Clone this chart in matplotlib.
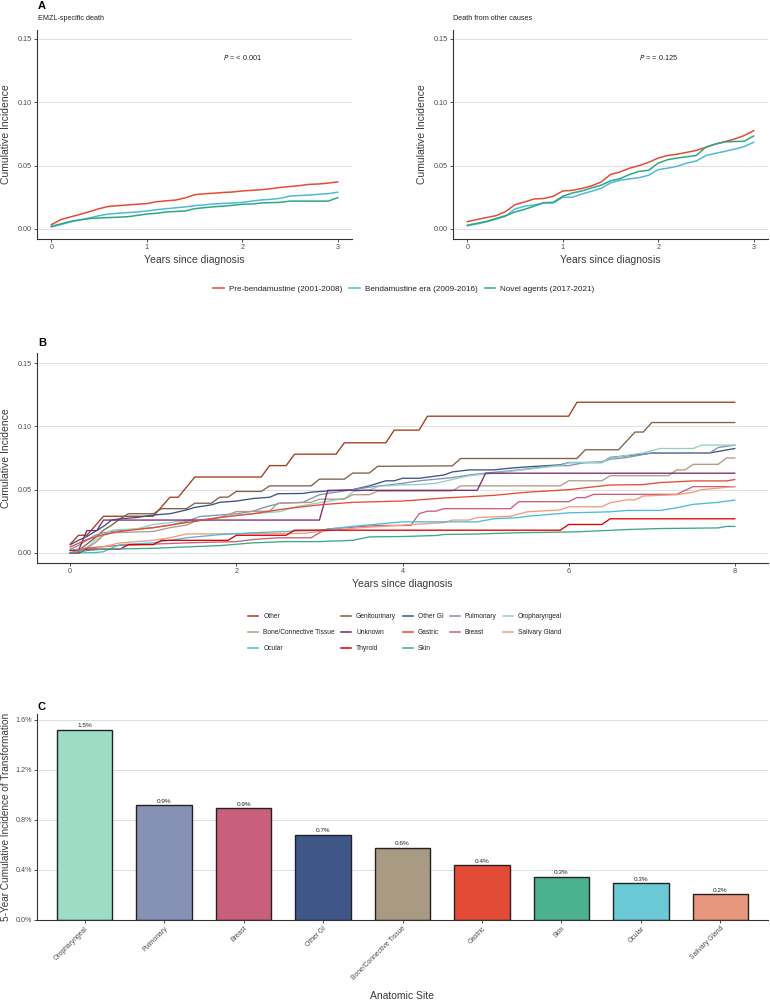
import matplotlib
matplotlib.use('Agg')
import matplotlib.pyplot as plt
from matplotlib.lines import Line2D
from matplotlib.ticker import FuncFormatter

plt.rcParams['font.family'] = ['Liberation Sans', 'DejaVu Sans']

# ---------------- Panel A data ----------------
a_time = [0, 0.1, 0.2, 0.3, 0.4, 0.5, 0.6, 0.7, 0.8, 0.9, 1.0, 1.1, 1.2, 1.3, 1.4, 1.5,
          1.6, 1.7, 1.8, 1.9, 2.0, 2.1, 2.2, 2.3, 2.4, 2.5, 2.6, 2.7, 2.8, 2.9, 3.0]
era_names = ['Pre-bendamustine (2001-2008)', 'Bendamustine era (2009-2016)', 'Novel agents (2017-2021)']
era_colors = ['#E64B35', '#4DBBD5', '#2EA784']

emzl_pre = [0.0034, 0.0074, 0.0095, 0.0115, 0.0137, 0.0160, 0.0178, 0.0184, 0.0190, 0.0195, 0.0200,
            0.0215, 0.0222, 0.0228, 0.0245, 0.0270, 0.0278, 0.0282, 0.0288, 0.0292, 0.0300, 0.0305,
            0.0310, 0.0318, 0.0328, 0.0335, 0.0342, 0.0352, 0.0355, 0.0362, 0.0372]
emzl_benda = [0.0016, 0.0035, 0.0055, 0.0072, 0.0087, 0.0105, 0.0118, 0.0124, 0.0129, 0.0135, 0.0142,
              0.0152, 0.0160, 0.0167, 0.0174, 0.0184, 0.0190, 0.0197, 0.0202, 0.0205, 0.0210, 0.0220,
              0.0229, 0.0234, 0.0242, 0.0260, 0.0264, 0.0268, 0.0274, 0.0279, 0.0290]
emzl_novel = [0.0021, 0.0040, 0.0060, 0.0072, 0.0082, 0.0087, 0.0090, 0.0093, 0.0097, 0.0107, 0.0118,
              0.0124, 0.0134, 0.0138, 0.0142, 0.0160, 0.0168, 0.0175, 0.0180, 0.0187, 0.0195, 0.0197,
              0.0205, 0.0208, 0.0210, 0.0220, 0.0220, 0.0220, 0.0220, 0.0220, 0.0247]

other_pre = [0.0058, 0.0074, 0.0090, 0.0105, 0.0137, 0.0192, 0.0213, 0.0237, 0.0240, 0.0258, 0.0300,
             0.0305, 0.0320, 0.0340, 0.0370, 0.0430, 0.0450, 0.0480, 0.0500, 0.0526, 0.0560, 0.0580,
             0.0590, 0.0605, 0.0620, 0.0645, 0.0670, 0.0690, 0.0710, 0.0737, 0.0776]
other_benda = [0.0026, 0.0040, 0.0055, 0.0078, 0.0100, 0.0158, 0.0180, 0.0190, 0.0205, 0.0205, 0.0250,
               0.0250, 0.0276, 0.0297, 0.0320, 0.0363, 0.0384, 0.0395, 0.0405, 0.0424, 0.0468, 0.0480,
               0.0495, 0.0520, 0.0537, 0.0580, 0.0597, 0.0613, 0.0630, 0.0650, 0.0684]
other_novel = [0.0029, 0.0045, 0.0060, 0.0083, 0.0105, 0.0134, 0.0155, 0.0180, 0.0208, 0.0210, 0.0258,
               0.0284, 0.0300, 0.0324, 0.0345, 0.0380, 0.0397, 0.0430, 0.0455, 0.0463, 0.0520, 0.0547,
               0.0560, 0.0570, 0.0580, 0.0647, 0.0670, 0.0687, 0.0690, 0.0692, 0.0734]

# ---------------- Panel B data ----------------
site_names = ['Other', 'Genitourinary', 'Other GI', 'Pulmonary', 'Oropharyngeal',
              'Bone/Connective Tissue', 'Unknown', 'Gastric', 'Breast', 'Salivary Gland',
              'Ocular', 'Thyroid', 'Skin']
site_colors = ['#A33B1E', '#7E6148', '#3C5488', '#8491B4', '#91D1C2',
               '#B09C85', '#7E2A6E', '#E64B35', '#C95F7A', '#F39B7F',
               '#4DBBD5', '#DC0000', '#3AAA88']

t_other = [0, 0.1, 0.2, 0.4, 1.0, 1.2, 1.3, 1.5, 2.3, 2.4, 2.6, 2.7, 3.2, 3.3, 3.8, 3.9, 4.2, 4.3, 6.0, 6.1, 8.0]
v_other = [0.007, 0.014, 0.014, 0.029, 0.029, 0.044, 0.044, 0.060, 0.060, 0.069, 0.069, 0.078, 0.078,
           0.087, 0.087, 0.097, 0.097, 0.108, 0.108, 0.119, 0.119]

t_gu = [0, 0.1, 0.2, 0.3, 0.4, 0.5, 0.6, 0.7, 1.0, 1.1, 1.4, 1.5, 1.7, 1.8, 1.9, 2.0, 2.3, 2.4, 2.9,
        3.0, 3.3, 3.4, 3.6, 3.7, 4.6, 4.7, 6.1, 6.2, 6.6, 6.8, 6.9, 7.0, 8.0]
v_gu = [0.002, 0.002, 0.007, 0.012, 0.018, 0.022, 0.027, 0.031, 0.031, 0.035, 0.035, 0.0393, 0.0393,
        0.0441, 0.0441, 0.0486, 0.0486, 0.053, 0.053, 0.0583, 0.0583, 0.0631, 0.0631, 0.0684, 0.0688,
        0.0746, 0.0746, 0.0815, 0.0815, 0.0955, 0.0955, 0.103, 0.103]

t_ogi = [0, 0.1, 0.2, 0.3, 0.4, 0.5, 0.6, 0.8, 1.0, 1.2, 1.4, 1.5, 1.6, 1.7, 1.8, 2.0, 2.2, 2.4, 2.5,
         2.8, 2.9, 3.1, 3.4, 3.6, 3.7, 3.8, 3.9, 4.0, 4.2, 4.5, 4.6, 4.8, 5.1, 5.3, 5.5, 5.9, 6.0, 6.4,
         6.5, 7.0, 7.7, 8.0]
v_ogi = [0.0066, 0.010, 0.013, 0.017, 0.021, 0.026, 0.027, 0.028, 0.030, 0.031, 0.034, 0.036, 0.037,
         0.038, 0.040, 0.041, 0.043, 0.044, 0.0468, 0.047, 0.048, 0.049, 0.050, 0.053, 0.055, 0.057,
         0.057, 0.059, 0.059, 0.0616, 0.064, 0.0656, 0.0656, 0.067, 0.068, 0.0696, 0.0714, 0.0714,
         0.0754, 0.0788, 0.079, 0.0825]

t_pul = [0, 0.1, 0.2, 0.3, 0.4, 0.5, 0.8, 1.0, 1.2, 1.4, 1.56, 1.8, 2.0, 2.2, 2.37, 2.53, 2.8, 3.0,
         3.3, 3.6, 4.0, 4.2, 4.6, 4.8, 5.0, 5.4, 5.8, 6.0, 6.2, 6.4, 6.5, 6.7, 7.0, 7.7, 7.8, 8.0]
v_pul = [0.003, 0.006, 0.010, 0.014, 0.016, 0.017, 0.019, 0.020, 0.022, 0.025, 0.0288, 0.030, 0.031,
         0.033, 0.0367, 0.0393, 0.040, 0.046, 0.049, 0.052, 0.055, 0.057, 0.0595, 0.0616, 0.063,
         0.0656, 0.0688, 0.069, 0.0714, 0.072, 0.074, 0.0754, 0.079, 0.079, 0.0833, 0.0852]

t_oro = [0, 0.1, 0.2, 0.3, 0.4, 0.5, 0.6, 0.8, 1.0, 1.2, 1.4, 1.56, 2.0, 2.53, 2.73, 3.09, 3.31, 3.41,
         3.61, 3.71, 3.97, 4.2, 4.4, 4.6, 4.8, 5.1, 5.5, 5.9, 6.0, 6.4, 6.5, 6.9, 7.1, 7.5, 7.6, 8.0]
v_oro = [0.000, 0.001, 0.004, 0.010, 0.014, 0.018, 0.0185, 0.019, 0.0225, 0.024, 0.026, 0.026, 0.030,
         0.0327, 0.0367, 0.0406, 0.0433, 0.0486, 0.050, 0.0525, 0.0538, 0.054, 0.055, 0.058, 0.061,
         0.063, 0.066, 0.069, 0.0714, 0.0714, 0.075, 0.079, 0.0825, 0.0825, 0.0852, 0.0852]

t_bone = [0, 0.2, 0.3, 0.4, 0.5, 1.0, 1.2, 1.4, 1.5, 1.8, 2.0, 2.4, 2.5, 2.9, 3.0, 3.3, 3.4, 3.6, 3.7,
          4.6, 4.7, 5.9, 6.0, 6.4, 6.5, 7.2, 7.3, 7.4, 7.5, 7.8, 7.9, 8.0]
v_bone = [0.002, 0.004, 0.008, 0.014, 0.016, 0.017, 0.020, 0.022, 0.025, 0.028, 0.0327, 0.033, 0.0393,
          0.040, 0.0425, 0.0425, 0.046, 0.046, 0.0488, 0.049, 0.053, 0.053, 0.057, 0.057, 0.061, 0.061,
          0.0656, 0.0656, 0.070, 0.070, 0.075, 0.075]

t_unk = [0, 0.1, 0.2, 0.32, 0.4, 3.0, 3.1, 4.9, 5.0, 8.0]
v_unk = [0.002, 0.002, 0.0177, 0.0177, 0.026, 0.026, 0.0495, 0.0495, 0.063, 0.063]

t_gas = [0, 0.2, 0.4, 0.6, 1.0, 1.4, 1.8, 2.2, 2.6, 3.0, 3.4, 4.0, 4.5, 5.1, 5.5, 6.0, 6.5, 6.9, 7.1,
         7.5, 7.9, 8.0]
v_gas = [0.0048, 0.0106, 0.0145, 0.017, 0.020, 0.024, 0.028, 0.031, 0.035, 0.038, 0.040, 0.041, 0.0434,
         0.0455, 0.048, 0.050, 0.0537, 0.054, 0.0556, 0.0569, 0.0569, 0.058]

t_bre = [0, 0.2, 0.6, 1.4, 2.0, 2.2, 2.5, 2.9, 3.0, 3.1, 3.7, 4.1, 4.2, 4.3, 4.4, 4.5, 5.3, 5.4, 6.0,
         6.1, 6.2, 6.3, 7.3, 7.5, 8.0]
v_bre = [0.000, 0.004, 0.006, 0.008, 0.009, 0.0106, 0.012, 0.012, 0.016, 0.019, 0.0217, 0.0217, 0.031,
         0.033, 0.033, 0.035, 0.035, 0.0405, 0.0405, 0.0437, 0.0437, 0.0463, 0.0463, 0.0524, 0.0524]

t_sal = [0, 0.2, 0.4, 0.6, 1.0, 1.2, 1.4, 2.8, 3.0, 3.5, 4.0, 4.5, 4.6, 4.8, 4.9, 5.3, 5.5, 5.9, 6.0,
         6.4, 6.5, 6.7, 6.8, 6.9, 7.3, 7.5, 7.6, 8.0]
v_sal = [0.000, 0.002, 0.005, 0.008, 0.010, 0.012, 0.015, 0.0155, 0.017, 0.020, 0.022, 0.024, 0.026,
         0.026, 0.028, 0.029, 0.0325, 0.034, 0.0365, 0.0365, 0.0397, 0.042, 0.042, 0.045, 0.046,
         0.048, 0.050, 0.0524]

t_ocu = [0, 0.3, 0.4, 0.5, 0.6, 1.0, 1.4, 1.8, 2.2, 2.6, 3.0, 3.4, 4.0, 4.9, 5.1, 5.4, 5.5, 6.0, 6.5,
         6.7, 7.1, 7.3, 7.5, 7.8, 8.0]
v_ocu = [0.000, 0.0003, 0.001, 0.004, 0.0066, 0.008, 0.012, 0.0145, 0.016, 0.017, 0.018, 0.021,
         0.0246, 0.0246, 0.027, 0.028, 0.029, 0.0317, 0.0325, 0.0336, 0.0336, 0.0357, 0.0384, 0.040,
         0.0418]

t_thy = [0, 0.1, 0.2, 0.6, 0.7, 1.0, 1.1, 1.9, 2.0, 2.6, 2.7, 5.9, 6.0, 6.4, 6.5, 8.0]
v_thy = [0.000, 0.000, 0.003, 0.003, 0.0066, 0.0066, 0.010, 0.010, 0.014, 0.014, 0.018, 0.018,
         0.0225, 0.0225, 0.027, 0.027]

t_skin = [0, 0.2, 0.4, 1.0, 1.4, 1.8, 2.2, 2.6, 3.0, 3.4, 3.6, 4.0, 4.4, 4.5, 4.9, 5.4, 6.1, 6.7, 7.1,
          7.8, 7.9, 8.0]
v_skin = [0.000, 0.002, 0.003, 0.0037, 0.0048, 0.0058, 0.008, 0.009, 0.009, 0.010, 0.0127, 0.013,
          0.0138, 0.0146, 0.015, 0.016, 0.0167, 0.0185, 0.0193, 0.0198, 0.021, 0.021]

site_times = [t_other, t_gu, t_ogi, t_pul, t_oro, t_bone, t_unk, t_gas, t_bre, t_sal, t_ocu, t_thy, t_skin]
site_values = [v_other, v_gu, v_ogi, v_pul, v_oro, v_bone, v_unk, v_gas, v_bre, v_sal, v_ocu, v_thy, v_skin]

# ---------------- Panel C data ----------------
bar_sites = ['Oropharyngeal', 'Pulmonary', 'Breast', 'Other GI', 'Bone/Connective Tissue',
             'Gastric', 'Skin', 'Ocular', 'Salivary Gland']
bar_values = [1.52, 0.918, 0.894, 0.68, 0.576, 0.437, 0.347, 0.293, 0.205]
bar_colors = ['#9DDCC5', '#8592B4', '#C95F7A', '#3F5788', '#A99A83',
              '#E44B37', '#4CB18F', '#6BC8D5', '#E6977E']

# ---------------- figure ----------------
W, H = 770, 1000
fig = plt.figure(figsize=(7.7, 10), dpi=100)

def rect(l, t, r, b):
    return [l / W, 1 - b / H, (r - l) / W, (b - t) / H]

def ftext(x, y, s, **kw):
    fig.text(x / W, 1 - y / H, s, **kw)

TICKC = '#4D4D4D'
TITLEC = '#3A3A3A'

def style(ax):
    for s in ['top', 'right']:
        ax.spines[s].set_visible(False)
    for s in ['left', 'bottom']:
        ax.spines[s].set_color('#333333')
        ax.spines[s].set_linewidth(0.8)
    ax.tick_params(length=2, width=0.6, color='#333333', labelsize=5.2,
                   labelcolor=TICKC, pad=1.5)
    ax.yaxis.grid(True, color='#DEDEDE', linewidth=0.7)
    ax.set_axisbelow(True)

# Panel A
axA1 = fig.add_axes(rect(37, 30, 352, 239))
axA2 = fig.add_axes(rect(453, 30, 768, 239))
for ax, series, ptxt in [(axA1, [emzl_pre, emzl_benda, emzl_novel], '= < 0.001'),
                         (axA2, [other_pre, other_benda, other_novel], '= = 0.125')]:
    style(ax)
    for vals, col, nm in zip(series, era_colors, era_names):
        ax.plot(a_time, vals, color=col, lw=1.1, label=nm)
    ax.set_xlim(-0.15, 3.15)
    ax.set_ylim(-0.0079, 0.157)
    ax.set_xticks([0, 1, 2, 3])
    ax.set_yticks([0, 0.05, 0.10, 0.15])
    ax.set_yticklabels(['0.00', '0.05', '0.10', '0.15'])
    ax.text(2.0, 0.135, r'$\it{P}$ ' + ptxt, ha='center', va='center', fontsize=5.3, color='#222222')

ftext(38, 1, 'A', fontsize=8, fontweight='bold', va='top', ha='left')
ftext(38, 18.5, 'EMZL-specific death', fontsize=5.2, va='center', ha='left', color='#222222')
ftext(453, 18.5, 'Death from other causes', fontsize=5.2, va='center', ha='left', color='#222222')
for xc in [194.5, 610.5]:
    ftext(xc, 260, 'Years since diagnosis', fontsize=7.5, ha='center', va='center', color=TITLEC)
for xc in [6, 422]:
    ftext(xc, 134.5, 'Cumulative Incidence', fontsize=7.5, ha='center', va='center',
          rotation=90, color=TITLEC)

hA = [Line2D([], [], color=c, lw=1.1) for c in era_colors]
fig.legend(hA, era_names, loc='center', bbox_to_anchor=(404 / W, 1 - 289 / H), ncol=3,
           frameon=False, fontsize=5.9, handlelength=1.3, columnspacing=0.85, handletextpad=0.6,
           labelcolor='#222222')

# Panel B
axB = fig.add_axes(rect(37, 353, 768, 563))
style(axB)
for tt, vv, col, nm in zip(site_times, site_values, site_colors, site_names):
    axB.plot(tt, vv, color=col, lw=0.95, label=nm)
axB.set_xlim(-0.4, 8.4)
axB.set_ylim(-0.0079, 0.1579)
axB.set_xticks([0, 2, 4, 6, 8])
axB.set_yticks([0, 0.05, 0.10, 0.15])
axB.set_yticklabels(['0.00', '0.05', '0.10', '0.15'])
ftext(38, 343, 'B', fontsize=8, fontweight='bold', va='center', ha='left')
ftext(402.5, 584, 'Years since diagnosis', fontsize=7.5, ha='center', va='center', color=TITLEC)
ftext(6, 458, 'Cumulative Incidence', fontsize=7.5, ha='center', va='center', rotation=90, color=TITLEC)

hB = [Line2D([], [], color=c, lw=1.1) for c in site_colors]
# reorder so that row-major layout matches (legend fills column-major)
ncolB = 5
nrowB = 3
order = []
for c in range(ncolB):
    for r in range(nrowB):
        i = r * ncolB + c
        if i < len(site_names):
            order.append(i)
fig.legend([hB[i] for i in order], [site_names[i] for i in order], loc='center',
           bbox_to_anchor=(405 / W, 1 - 633 / H), ncol=ncolB, frameon=False, fontsize=4.8,
           handlelength=1.5, columnspacing=0.95, handletextpad=0.75, labelspacing=1.35,
           labelcolor='#222222')

# Panel C
axC = fig.add_axes(rect(37, 714, 768, 920))
style(axC)
xpos = list(range(len(bar_sites)))
bars = axC.bar(xpos, bar_values, width=0.7, color=bar_colors, edgecolor='#222222', linewidth=1.0)
for b, v in zip(bars, bar_values):
    axC.text(b.get_x() + b.get_width() / 2, v + 0.012, f'{v:.1f}%', ha='center', va='bottom',
             fontsize=4.6, color='#222222')
axC.set_xlim(-0.6, 8.6)
axC.set_ylim(0, 1.645)
axC.set_yticks([0, 0.4, 0.8, 1.2, 1.6])
axC.yaxis.set_major_formatter(FuncFormatter(lambda v, p: f'{v:.1f}%'))
axC.set_xticks(xpos)
axC.set_xticklabels(bar_sites, rotation=45, ha='right', rotation_mode='anchor', fontsize=4.9)
ftext(38, 707, 'C', fontsize=8, fontweight='bold', va='center', ha='left')
ftext(402.5, 996, 'Anatomic Site', fontsize=7.5, ha='center', va='center', color=TITLEC)
ftext(6, 817, '5-Year Cumulative Incidence of Transformation', fontsize=7.2, ha='center',
      va='center', rotation=90, color=TITLEC)

fig.savefig('out.png', dpi=100)
